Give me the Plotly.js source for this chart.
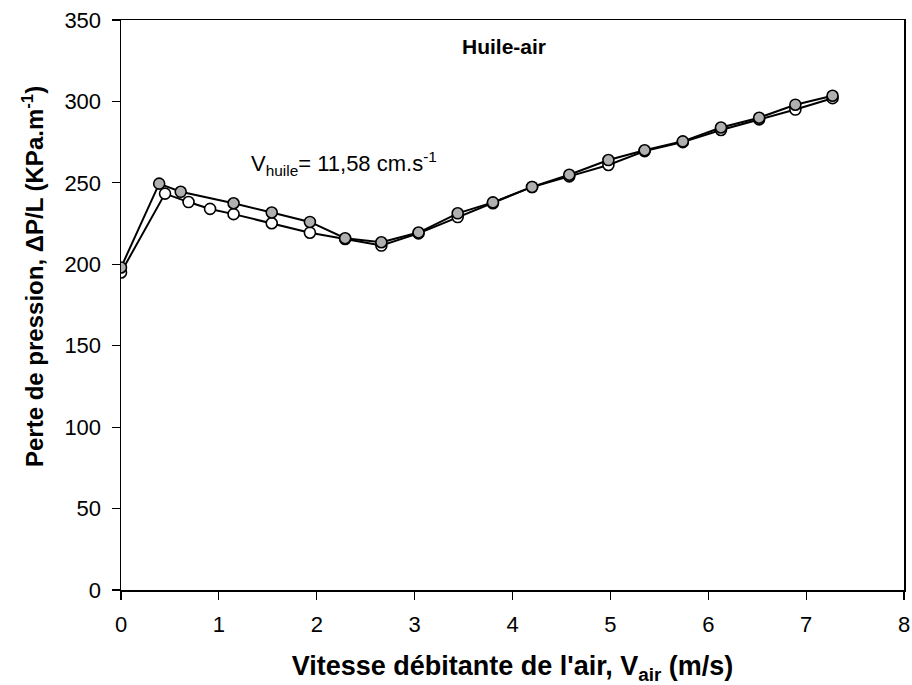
<!DOCTYPE html>
<html>
<head>
<meta charset="utf-8">
<script src="https://cdn.plot.ly/plotly-3.0.1.min.js"></script>
<style>html,body{margin:0;padding:0;background:#fff;}#chart{width:912px;height:685px;}</style>
</head>
<body>
<div id="chart"></div>
<script>
// Series 1: filled grey markers
var xFilled = [0, 0.39, 0.61, 1.15, 1.54, 1.93, 2.29, 2.66, 3.04, 3.44, 3.80, 4.20, 4.58, 4.98, 5.35, 5.74, 6.13, 6.52, 6.89, 7.27];
var yFilled = [198, 249.5, 244.5, 237.5, 231.8, 226, 216, 213.5, 219.5, 231.3, 238, 247.5, 255, 264, 270, 275.5, 284, 290, 298, 303.5];
// Series 2: open markers
var xOpen = [0, 0.45, 0.69, 0.91, 1.15, 1.54, 1.93, 2.29, 2.66, 3.04, 3.44, 3.80, 4.20, 4.58, 4.98, 5.35, 5.74, 6.13, 6.52, 6.89, 7.27];
var yOpen = [195, 243.4, 238.2, 234, 230.8, 225.2, 219.4, 215.5, 211.5, 219, 229, 237.5, 247.5, 254, 261, 269.5, 275, 282.5, 289, 295, 302];

var xTicks = [0, 1, 2, 3, 4, 5, 6, 7, 8];
var yTicks = [0, 50, 100, 150, 200, 250, 300, 350];

var FONT = 'Liberation Sans, Arial, sans-serif';

var traces = [
  {
    x: xOpen, y: yOpen, type: 'scatter', mode: 'lines+markers',
    line: {color: '#000', width: 2},
    marker: {size: 11, color: '#ffffff', line: {color: '#000', width: 1.6}},
    showlegend: false
  },
  {
    x: xFilled, y: yFilled, type: 'scatter', mode: 'lines+markers',
    line: {color: '#000', width: 2},
    marker: {size: 11, color: '#b0b0b0', line: {color: '#000', width: 1.6}},
    showlegend: false
  }
];

var axisCommon = {
  showgrid: false, zeroline: false,
  showline: true, linecolor: '#000', linewidth: 1.5, mirror: true,
  ticks: 'outside', ticklen: 8, tickwidth: 1.2, tickcolor: '#000',
  tickfont: {family: FONT, size: 22, color: '#000'},
  ticklabeloverflow: 'allow'
};

var layout = {
  width: 912, height: 685,
  margin: {l: 121, r: 8, t: 20, b: 95},
  paper_bgcolor: '#fff', plot_bgcolor: '#fff',
  xaxis: Object.assign({}, axisCommon, {
    range: [0, 8], tickmode: 'array', tickvals: xTicks, ticktext: xTicks.map(String),
    ticklabelstandoff: 6,
    title: {text: "Vitesse débitante de l'air, V<sub>air</sub> (m/s)",
            font: {family: FONT, size: 27, color: '#000', weight: 'bold'}, standoff: 20}
  }),
  yaxis: Object.assign({}, axisCommon, {
    range: [0, 350], tickmode: 'array', tickvals: yTicks, ticktext: yTicks.map(String),
    ticklabelstandoff: 6
  }),
  annotations: [
    {xref: 'paper', yref: 'paper', x: -0.113, y: 0.55, xanchor: 'center', yanchor: 'middle',
     textangle: -90, showarrow: false,
     text: 'Perte de pression, ΔP/L (KPa.m<sup>-1</sup>)',
     font: {family: FONT, size: 24, color: '#000', weight: 'bold'}},
    {x: 3.91, y: 334, xref: 'x', yref: 'y', showarrow: false, text: 'Huile-air',
     font: {family: FONT, size: 21, color: '#000', weight: 'bold'}},
    {x: 2.275, y: 262, xref: 'x', yref: 'y', showarrow: false,
     text: 'V<sub>huile</sub>= 11,58 cm.s<sup>-1</sup>',
     font: {family: FONT, size: 22, color: '#000'}}
  ]
};

Plotly.newPlot('chart', traces, layout, {staticPlot: true, displayModeBar: false});
</script>
</body>
</html>
